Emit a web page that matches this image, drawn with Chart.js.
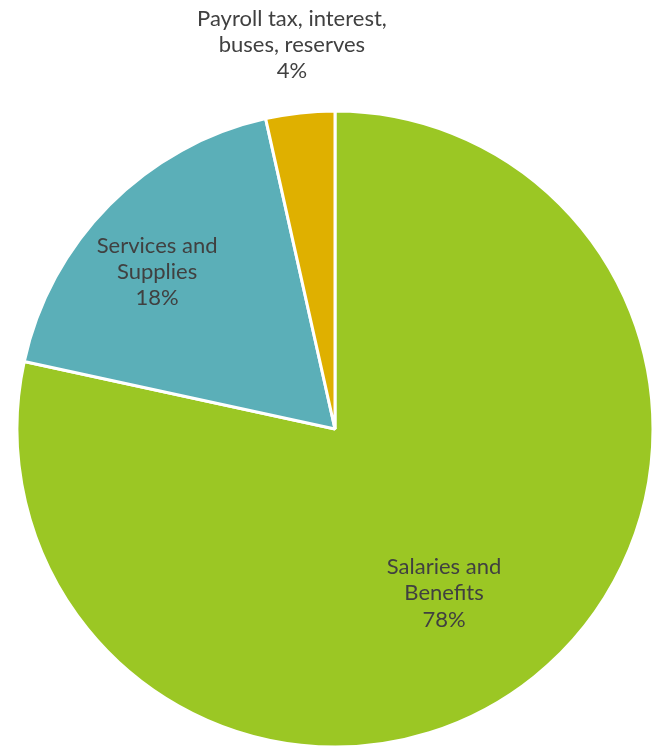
<!DOCTYPE html>
<html>
<head>
<meta charset="utf-8">
<script src="https://cdn.jsdelivr.net/npm/chart.js@4/dist/chart.umd.min.js"></script>
<style>
    html, body { margin: 0; padding: 0; background: #ffffff; }
    #wrap { width: 656px; height: 747px; position: relative; }
</style>
</head>
<body>
<div id="wrap"><canvas id="pie"></canvas></div>
<script>
var categories = [["Salaries and", "Benefits"], ["Services and", "Supplies"], ["Payroll tax, interest,", "buses, reserves"]];
var shares = [78.4, 18.1, 3.5];
var colors = ["#9bc724", "#5bafb8", "#dfb000"];

// label spot: fraction of radius out, and a small turn (degrees) off the slice middle
var labelDist = [0.62, 0.746, 1.215];
var labelTurn = [5.3, -3.4, -0.1];

var sliceLabels = {
    id: "sliceLabels",
    afterDatasetsDraw: function(chart) {
        var ctx = chart.ctx;
        var meta = chart.getDatasetMeta(0);
        var total = shares.reduce(function(a, b) { return a + b; }, 0);
        ctx.save();
        ctx.font = "22px Lato, 'Open Sans', sans-serif";
        ctx.fillStyle = "#404040";
        ctx.textAlign = "center";
        ctx.textBaseline = "middle";
        meta.data.forEach(function(arc, i) {
            var p = arc.getProps(["x", "y", "startAngle", "endAngle", "outerRadius"], true);
            var mid = (p.startAngle + p.endAngle) / 2 + labelTurn[i] * Math.PI / 180;
            var d = p.outerRadius * labelDist[i];
            var cx = p.x + Math.cos(mid) * d;
            var cy = p.y + Math.sin(mid) * d;
            var lines = categories[i].concat([Math.round(shares[i] / total * 100) + "%"]);
            var lh = 26.3;
            var top = cy - (lines.length - 1) * lh / 2;
            lines.forEach(function(t, k) {
                ctx.fillText(t, cx, top + k * lh);
            });
        });
        ctx.restore();
    }
};

new Chart(document.getElementById("pie"), {
    type: "pie",
    data: {
        labels: categories,
        datasets: [{
            data: shares,
            backgroundColor: colors,
            borderColor: "#ffffff",
            borderWidth: 3
        }]
    },
    options: {
        responsive: true,
        maintainAspectRatio: false,
        animation: false,
        radius: 318,
        layout: { padding: { top: 111, bottom: 0, left: 17, right: 3 } },
        plugins: {
            legend: { display: false },
            tooltip: { enabled: false }
        }
    },
    plugins: [sliceLabels]
});
</script>
</body>
</html>
